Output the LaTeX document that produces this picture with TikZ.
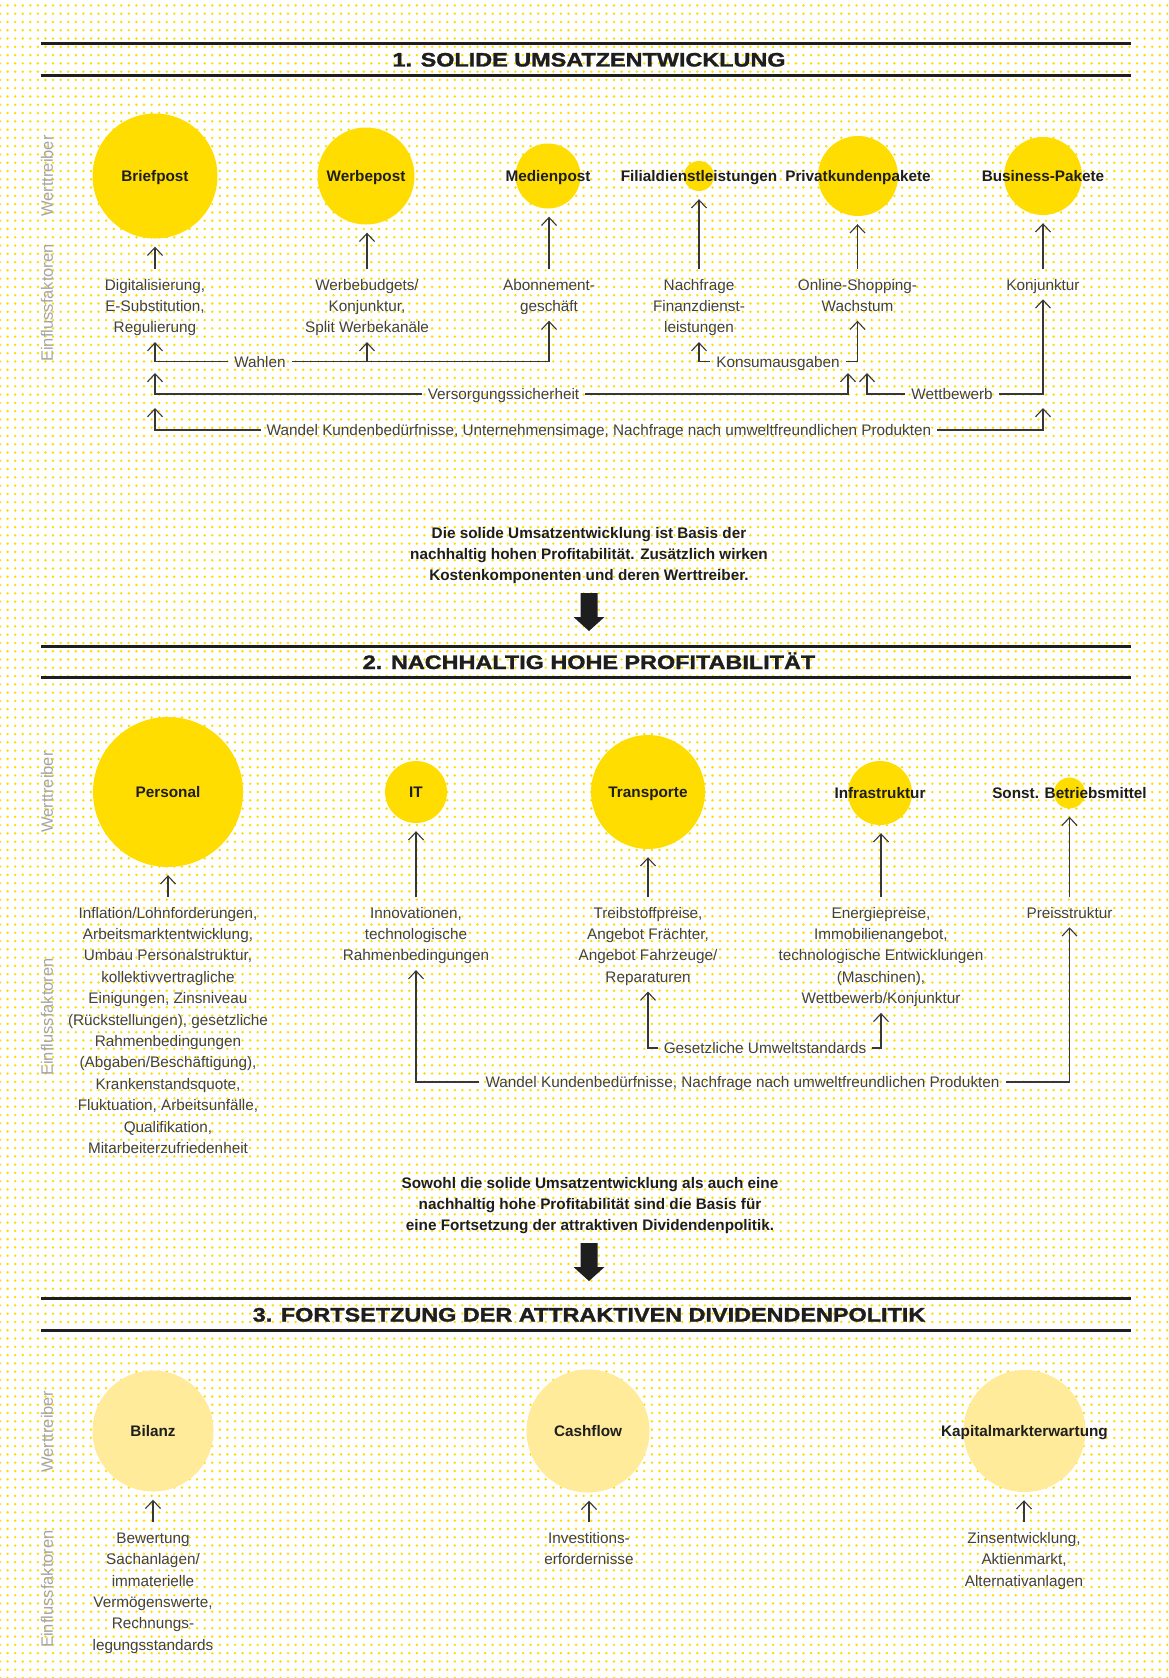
\documentclass[tikz,border=0pt]{standalone}
\usepackage{fontspec}
\setmainfont{Liberation Sans}
\newfontfamily\ttlfont{Liberation Sans Bold}[FakeBold=1.3]
\usepackage{graphicx}
\usetikzlibrary{arrows.meta,patterns}
\definecolor{cyel}{RGB}{255,221,0}
\definecolor{cpale}{RGB}{255,235,153}
\definecolor{cdot}{RGB}{255,220,0}
\definecolor{ctext}{RGB}{66,66,66}
\definecolor{cdark}{RGB}{30,30,30}
\definecolor{cline}{RGB}{55,55,55}
\definecolor{cvert}{RGB}{165,165,165}
\pgfdeclarepatternformonly{ydots}{\pgfqpoint{-2pt}{-2pt}}{\pgfqpoint{2pt}{2pt}}{\pgfqpoint{7.58pt}{8.28pt}}{\pgfpathcircle{\pgfpointorigin}{1.35pt}\pgfusepath{fill}}
\begin{document}
\begin{tikzpicture}[x=1pt,y=-1pt,
  bub/.style={circle, inner sep=0pt, fill=cyel, draw=none},
  pbub/.style={bub, fill=cpale},
  blab/.style={inner sep=0pt, font=\bfseries\fontsize{15.3}{18}\selectfont, text=cdark, text height=11pt, text depth=0pt},
  fac/.style={anchor=north, inner sep=0pt, align=center, font=\fontsize{15.3}{21.4}\selectfont, text=ctext},
  clab/.style={inner xsep=6pt, inner ysep=0pt, font=\fontsize{15.3}{18}\selectfont, text=ctext, text height=11pt, text depth=0pt},
  conn/.style={draw=cline, line width=1.1pt},
  arr/.style={conn, -{Straight Barb[length=8pt,width=15pt,line width=1.1pt]}},
  up/.style={arr, shorten <=6pt, shorten >=8pt},
  uptext/.style={arr, shorten >=2.5pt},
  vlab/.style={rotate=90, inner sep=0pt, font=\fontsize{16.5}{18}\selectfont, text=cvert},
  ttl/.style={inner sep=0pt, font=\ttlfont\bfseries\fontsize{19.5}{22}\selectfont, text=cdark, text height=14pt, text depth=0pt},
  hrule/.style={draw=cdark, line width=2.5pt},
  mid/.style={anchor=north, inner sep=0pt, align=center, font=\bfseries\fontsize{15.3}{21}\selectfont, text=cdark},
  blk/.style={fill=cdark}
]
\useasboundingbox (0,0) rectangle (1168,1678);
\fill[white] (0,0) rectangle (1168,1678);
\fill[pattern=ydots, pattern color=cdot] (0,0) rectangle (1168,1678);

% ================= SECTION 1 =================
\draw[hrule] (41,43.5) -- (1131,43.5);
\draw[hrule] (41,75.5) -- (1131,75.5);
\node[ttl] (t1) at (589,59.5) {\scalebox{1.2}[1]{1. SOLIDE UMSATZENTWICKLUNG}};

\node[vlab] (v1a) at (47,176) {Werttreiber};
\node[vlab] (v1b) at (47,303) {Einflussfaktoren};

\node[bub, minimum size=125pt] (brief) at (155,176) {};
\node[blab] (brief-l) at (brief) {Briefpost};
\node[bub, minimum size=97pt] (werbe) at (366,176) {};
\node[blab] (werbe-l) at (werbe) {Werbepost};
\node[bub, minimum size=65pt] (medien) at (548,176) {};
\node[blab] (medien-l) at (medien) {Medienpost};
\node[bub, minimum size=30pt] (filial) at (699,176) {};
\node[blab] (filial-l) at (filial) {Filialdienstleistungen};
\node[bub, minimum size=80pt] (privat) at (858,176) {};
\node[blab] (privat-l) at (privat) {Privatkundenpakete};
\node[bub, minimum size=78pt] (business) at (1043,176) {};
\node[blab] (business-l) at (business) {Business-Pakete};

\node[fac] (dig) at (155,275) {\strut Digitalisierung,\\E-Substitution,\\Regulierung\strut};
\node[fac] (werbef) at (367,275) {\strut Werbebudgets/\\Konjunktur,\\Split Werbekanäle\strut};
\node[fac] (abo) at (549,275) {\strut Abonnement-\\geschäft\strut};
\node[fac] (nach) at (699,275) {\strut Nachfrage\\Finanzdienst-\\leistungen\strut};
\node[fac] (online) at (857.5,275) {\strut Online-Shopping-\\Wachstum\strut};
\node[fac] (konj) at (1043,275) {\strut Konjunktur\strut};

\draw[up] (dig.north) -- (dig.north |- brief.south);
\draw[up] (werbef.north) -- (werbef.north |- werbe.south);
\draw[up] (abo.north) -- (abo.north |- medien.south);
\draw[up] (nach.north) -- (nach.north |- filial.south);
\draw[up] (online.north) -- (online.north |- privat.south);
\draw[up] (konj.north) -- (konj.north |- business.south);

\node[clab] (wahlen) at (260,361.5) {Wahlen};
\draw[uptext] (wahlen.west) -| (dig.south);
\draw[uptext] (wahlen.east) -| (abo.south);
\draw[uptext] (wahlen.east -| werbef.south) -- (werbef.south);

\node[clab] (konsum) at (778,361.5) {Konsumausgaben};
\draw[uptext] (konsum.west) -| (nach.south);
\draw[uptext] (konsum.east) -| (online.south);

\coordinate (tv1) at (155,373);
\coordinate (tv2) at (848,373);
\coordinate (tv3) at (867,373);
\node[clab] (vers) at (503.5,394) {Versorgungssicherheit};
\draw[arr] (vers.west) -| (tv1);
\draw[arr] (vers.east) -| (tv2);
\node[clab] (wettb) at (952,394) {Wettbewerb};
\draw[arr] (wettb.west) -| (tv3);
\draw[uptext] (wettb.east) -| (konj.south);

\coordinate (tw1) at (155,408);
\coordinate (tw2) at (1043,408);
\node[clab] (wandel1) at (599,430) {Wandel Kundenbedürfnisse, Unternehmensimage, Nachfrage nach umweltfreundlichen Produkten};
\draw[arr] (wandel1.west) -| (tw1);
\draw[arr] (wandel1.east) -| (tw2);

\node[mid] (m1) at (589,523.3) {\strut Die solide Umsatzentwicklung ist Basis der\\nachhaltig hohen Profitabilität. Zusätzlich wirken\\Kostenkomponenten und deren Werttreiber.};
\fill[blk] (580.5,593) -- (597.5,593) -- (597.5,617) -- (604.5,617) -- (589,631) -- (573.5,617) -- (580.5,617) -- cycle;

% ================= SECTION 2 =================
\draw[hrule] (41,646.5) -- (1131,646.5);
\draw[hrule] (41,677.5) -- (1131,677.5);
\node[ttl] (t2) at (589,662) {\scalebox{1.2}[1]{2. NACHHALTIG HOHE PROFITABILITÄT}};

\node[vlab] (v2a) at (47,792) {Werttreiber};
\node[vlab] (v2b) at (47,1017) {Einflussfaktoren};

\node[bub, minimum size=150pt] (pers) at (168,792) {};
\node[blab] (pers-l) at (pers) {Personal};
\node[bub, minimum size=62pt] (it) at (416,792) {};
\node[blab] (it-l) at (it) {IT};
\node[bub, minimum size=114pt] (trans) at (648,792) {};
\node[blab] (trans-l) at (trans) {Transporte};
\node[bub, minimum size=64pt] (infra) at (880,793) {};
\node[blab] (infra-l) at (infra) {Infrastruktur};
\node[bub, minimum size=31pt] (sonst) at (1069.5,793) {};
\node[blab] (sonst-l) at (sonst) {Sonst. Betriebsmittel};

\node[fac] (persf) at (168,903) {\strut Inflation/Lohnforderungen,\\Arbeitsmarktentwicklung,\\Umbau Personalstruktur,\\kollektivvertragliche\\Einigungen, Zinsniveau\\(Rückstellungen), gesetzliche\\Rahmenbedingungen\\(Abgaben/Beschäftigung),\\Krankenstandsquote,\\Fluktuation, Arbeitsunfälle,\\Qualifikation,\\Mitarbeiterzufriedenheit\strut};
\node[fac] (itf) at (416,903) {\strut Innovationen,\\technologische\\Rahmenbedingungen\strut};
\node[fac] (transf) at (648,903) {\strut Treibstoffpreise,\\Angebot Frächter,\\Angebot Fahrzeuge/\\Reparaturen\strut};
\node[fac] (infraf) at (881,903) {\strut Energiepreise,\\Immobilienangebot,\\technologische Entwicklungen\\(Maschinen),\\Wettbewerb/Konjunktur\strut};
\node[fac] (preis) at (1069.5,903) {\strut Preisstruktur\strut};

\draw[up] (persf.north) -- (persf.north |- pers.south);
\draw[up] (itf.north) -- (itf.north |- it.south);
\draw[up] (transf.north) -- (transf.north |- trans.south);
\draw[up] (infraf.north) -- (infraf.north |- infra.south);
\draw[up] (preis.north) -- (preis.north |- sonst.south);

\node[clab] (gesetz) at (765,1048) {Gesetzliche Umweltstandards};
\draw[uptext] (gesetz.west) -| (transf.south);
\draw[uptext] (gesetz.east) -| (infraf.south);

\node[clab] (wandel2) at (742.5,1082) {Wandel Kundenbedürfnisse, Nachfrage nach umweltfreundlichen Produkten};
\draw[uptext] (wandel2.west) -| (itf.south);
\draw[uptext] (wandel2.east) -| (preis.south);

\node[mid] (m2) at (590,1173.3) {\strut Sowohl die solide Umsatzentwicklung als auch eine\\nachhaltig hohe Profitabilität sind die Basis für\\eine Fortsetzung der attraktiven Dividendenpolitik.};
\fill[blk] (580.5,1243) -- (597.5,1243) -- (597.5,1267) -- (604.5,1267) -- (589,1281) -- (573.5,1267) -- (580.5,1267) -- cycle;

% ================= SECTION 3 =================
\draw[hrule] (41,1298.5) -- (1131,1298.5);
\draw[hrule] (41,1330.5) -- (1131,1330.5);
\node[ttl] (t3) at (589,1314.5) {\scalebox{1.2}[1]{3. FORTSETZUNG DER ATTRAKTIVEN DIVIDENDENPOLITIK}};

\node[vlab] (v3a) at (47,1432) {Werttreiber};
\node[vlab] (v3b) at (47,1589) {Einflussfaktoren};

\node[pbub, minimum size=121pt] (bilanz) at (153,1431) {};
\node[blab] (bilanz-l) at (bilanz) {Bilanz};
\node[pbub, minimum size=123pt] (cash) at (588,1431) {};
\node[blab] (cash-l) at (cash) {Cashflow};
\node[pbub, minimum size=122pt] (kap) at (1024.5,1431) {};
\node[blab] (kap-l) at (kap) {Kapitalmarkterwartung};

\node[fac] (bilf) at (153,1528) {\strut Bewertung\\Sachanlagen/\\immaterielle\\Vermögenswerte,\\Rechnungs-\\legungsstandards\strut};
\node[fac] (cashf) at (589,1528) {\strut Investitions-\\erfordernisse\strut};
\node[fac] (kapf) at (1024,1528) {\strut Zinsentwicklung,\\Aktienmarkt,\\Alternativanlagen\strut};

\draw[up] (bilf.north) -- (bilf.north |- bilanz.south);
\draw[up] (cashf.north) -- (cashf.north |- cash.south);
\draw[up] (kapf.north) -- (kapf.north |- kap.south);
\end{tikzpicture}
\end{document}
